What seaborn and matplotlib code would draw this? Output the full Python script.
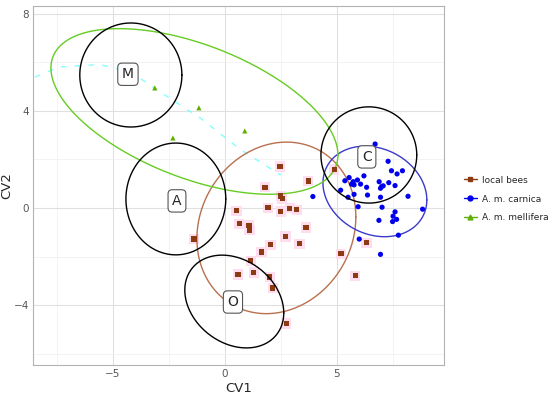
import numpy as np
import pandas as pd
import matplotlib
matplotlib.use("Agg")
import matplotlib.pyplot as plt
from matplotlib.lines import Line2D
import seaborn as sns

# canonical variate scores
local_x = [2.46, 3.72, 1.79, 2.50, 2.56, 4.88, 1.93, 2.50, 2.90, 3.21, 0.52, 0.64, 1.08, 1.10, 3.62,
           -1.38, 2.71, 2.04, 3.33, 1.64, 5.19, 1.16, 0.59, 1.29, 2.00, 2.14, 5.82, 2.74, 6.33]
local_y = [1.70, 1.11, 0.85, 0.49, 0.38, 1.58, 0.01, -0.15, -0.01, -0.08, -0.12, -0.65, -0.71, -0.92, -0.81,
           -1.28, -1.18, -1.51, -1.47, -1.81, -1.89, -2.17, -2.74, -2.65, -2.84, -3.29, -2.79, -4.76, -1.43]
carnica_x = [6.71, 7.29, 7.44, 7.93, 7.69, 6.21, 5.36, 5.55, 5.73, 5.66, 5.77, 5.92, 6.06, 6.33, 6.89,
             7.32, 7.60, 7.00, 7.07, 6.95, 5.17, 5.77, 6.37, 5.50, 6.95, 8.18, 3.93, 5.95, 7.02, 8.83,
             7.60, 7.51, 7.67, 7.49, 6.88, 7.75, 6.00, 6.95]
carnica_y = [2.63, 1.92, 1.53, 1.53, 1.40, 1.32, 1.12, 1.25, 1.08, 0.98, 0.95, 1.15, 0.98, 0.85, 1.08,
             1.04, 0.92, 0.88, 0.91, 0.81, 0.73, 0.56, 0.53, 0.44, 0.44, 0.48, 0.47, 0.05, 0.03, -0.05,
             -0.16, -0.34, -0.47, -0.56, -0.51, -1.12, -1.28, -1.91]
mellifera_x = [-3.13, -1.16, -2.32, 0.89]
mellifera_y = [4.94, 4.12, 2.88, 3.17]

groups = ["local bees", "A. m. carnica", "A. m. mellifera"]
colors = {"local bees": "#8b3a12", "A. m. carnica": "#0000ee", "A. m. mellifera": "#5fb000"}
ell_colors = {"local bees": "#b8704f", "A. m. carnica": "#3a3acc", "A. m. mellifera": "#66cc22"}

# group ellipses: centre, conjugate semi-axes
ell_center = {"local bees": (2.3, -0.82), "A. m. carnica": (6.7, 0.68), "A. m. mellifera": (-1.36, 3.97)}
ell_u = {"local bees": (3.55, 0.45), "A. m. carnica": (2.32, -0.35), "A. m. mellifera": (6.41, -1.79)}
ell_v = {"local bees": (0.0, 3.5), "A. m. carnica": (0.0, 1.83), "A. m. mellifera": (0.0, 2.9)}

# reference populations (black rings with labels)
ref_labels = ["M", "A", "C", "O"]
ref_center = [(-4.2, 5.47), (-2.19, 0.37), (6.43, 2.18), (0.42, -3.85)]
ref_u = [(2.28, 0.0), (2.23, 0.0), (2.14, 0.0), (2.21, -0.47)]
ref_v = [(0.0, 2.14), (0.0, 2.3), (0.0, 1.98), (0.0, 1.85)]
ref_text = [(-4.33, 5.5), (-2.14, 0.29), (6.34, 2.1), (0.36, -3.87)]

# faint cyan trace
trace_x = [-9.8, -8.7, -7.4, -5.6, -4.2, -3.1, -1.1, 0.7, 2.5]
trace_y = [4.2, 5.3, 5.8, 5.9, 5.6, 4.9, 3.7, 2.4, 1.35]

df = pd.concat([
    pd.DataFrame({"CV1": local_x, "CV2": local_y, "group": groups[0]}),
    pd.DataFrame({"CV1": carnica_x, "CV2": carnica_y, "group": groups[1]}),
    pd.DataFrame({"CV1": mellifera_x, "CV2": mellifera_y, "group": groups[2]}),
])

sns.set_theme(style="whitegrid")
plt.rcParams['font.family'] = ['DejaVu Sans']

fig = plt.figure(figsize=(5.5, 3.98), dpi=100)
ax = fig.add_axes([0.06, 0.083, 0.747, 0.902])

t = np.linspace(0, 2 * np.pi, 300)


def ell(c, u, v):
    return (c[0] + u[0] * np.cos(t) + v[0] * np.sin(t),
            c[1] + u[1] * np.cos(t) + v[1] * np.sin(t))


ax.plot(trace_x, trace_y, color="#66ffff", lw=1, ls=(0, (4, 6)), alpha=0.8, zorder=1)

# pink halo behind local bees
loc = df[df.group == groups[0]]
ax.scatter(loc.CV1, loc.CV2, s=55, marker="s", color="#ffdcee", edgecolor="none", zorder=1)

for g in groups:
    ex, ey = ell(ell_center[g], ell_u[g], ell_v[g])
    ax.plot(ex, ey, color=ell_colors[g], lw=1.0, zorder=2)

sns.scatterplot(data=df, x="CV1", y="CV2", hue="group", style="group",
                markers={"local bees": "s", "A. m. carnica": "o", "A. m. mellifera": "^"},
                palette=colors, s=14, edgecolor="none", legend=False, ax=ax, zorder=3)

for lab, c, u, v, tp in zip(ref_labels, ref_center, ref_u, ref_v, ref_text):
    ex, ey = ell(c, u, v)
    ax.plot(ex, ey, color="black", lw=1.0, zorder=4)
    ax.text(tp[0], tp[1], lab, ha="center", va="center", fontsize=10, zorder=5,
            bbox=dict(boxstyle="round,pad=0.3", fc="white", ec="#555555", lw=0.8))

ax.set_xlim(-8.57, 9.78)
ax.set_ylim(-6.46, 8.31)
ax.set_xticks([-5, 0, 5])
ax.set_yticks([-4, 0, 4, 8])
ax.set_xticks([-7.5, -2.5, 2.5, 7.5], minor=True)
ax.set_yticks([-6, -2, 2, 6], minor=True)
ax.grid(which="major", color="#e0e0e0", lw=0.8)
ax.grid(which="minor", color="#efefef", lw=0.5)
ax.tick_params(axis="both", which="both", length=0, labelsize=7.5, labelcolor="#555555", pad=3)
for s in ax.spines.values():
    s.set_color("#b3b3b3")
    s.set_linewidth(0.8)
ax.set_xlabel("CV1", fontsize=9.5, labelpad=2)
ax.set_ylabel("CV2", fontsize=9.5, labelpad=0)

handles = [
    Line2D([], [], color=colors[groups[0]], marker="s", markersize=3.5, lw=1),
    Line2D([], [], color=colors[groups[1]], marker="o", markersize=3.5, lw=1),
    Line2D([], [], color=colors[groups[2]], marker="^", markersize=3.5, lw=1),
]
fig.legend(handles, groups, loc="center left", bbox_to_anchor=(0.828, 0.5), frameon=False,
           fontsize=6.5, handlelength=1.5, handletextpad=0.6, labelspacing=1.1)

fig.savefig("out.png", dpi=100)
